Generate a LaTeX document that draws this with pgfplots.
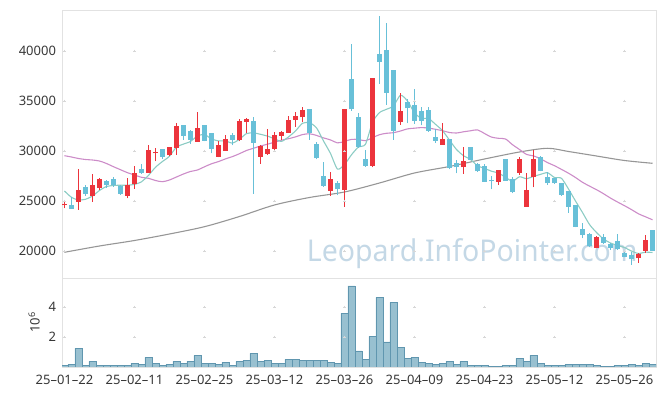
\documentclass[border=0pt]{standalone}
\usepackage{graphicx}
\usepackage{pgfplots}
\pgfplotsset{compat=1.18}
\usepackage{pgfplotstable}
\usepackage{fontspec}
\setmainfont{Noto Sans}
\definecolor{cup}{RGB}{236,52,60}
\definecolor{cdn}{RGB}{104,192,216}
\definecolor{mafive}{RGB}{140,204,196}
\definecolor{matwenty}{RGB}{204,140,200}
\definecolor{masixty}{RGB}{150,150,150}
\definecolor{volf}{RGB}{152,192,208}
\definecolor{vole}{RGB}{96,150,175}
\definecolor{framec}{RGB}{226,226,226}
\definecolor{gridc}{RGB}{215,215,215}
\definecolor{wm}{RGB}{196,216,230}
\definecolor{txt}{RGB}{55,55,55}

\pgfplotstableread{
i O H L C
0 24550 25100 24270 24650
2 24930 28170 24100 26000
4 25500 27670 24930 26500
5 26300 27300 26100 27170
9 25500 27330 25270 26530
10 26700 28500 26230 27700
12 27830 30570 27800 30000
13 29750 30270 28970 29800
15 29630 30370 29500 30300
16 30330 32800 29630 32400
19 30930 33930 30900 32200
22 29430 31000 29370 30500
23 30030 31630 30030 31100
25 31100 33170 30970 32900
26 32900 33330 31770 33100
28 29430 30600 28700 30430
29 29700 32230 29600 30170
30 30230 31900 30030 31570
31 31530 31970 31100 31800
32 31830 33530 31830 33070
33 33100 33930 32430 33400
34 33370 34430 32870 34030
38 26030 27930 25530 27170
40 26100 34100 24430 34100
44 28500 37200 28370 37200
48 32930 35770 32600 33930
54 30630 32770 30630 31100
57 28370 30430 27700 28930
62 26930 28000 26600 28000
65 27830 29370 27600 29170
66 24430 27830 24430 26000
67 27370 30100 26370 29170
76 20330 21500 20270 21330
82 19270 19830 18830 19630
83 20030 21600 19830 21000
}\up

\pgfplotstableread{
i O H L C
1 24530 25370 24230 24230
3 26370 26630 25500 25700
6 26900 27100 26300 26630
7 27100 27370 26430 26570
8 26400 26570 25600 25730
11 28100 28700 27700 27830
14 30170 30200 29230 29430
17 32500 32500 31100 31500
18 31930 32100 30700 31100
20 32500 32570 30970 31030
21 31700 31700 29770 30230
24 31570 31770 30570 31100
27 32900 33430 25700 30830
35 34100 34100 31100 31830
36 30600 30930 29170 29270
37 27430 28930 26430 26500
39 26700 26970 25570 26170
41 37100 40670 34030 34170
42 33370 33830 30300 30370
43 29170 30100 28430 28530
45 39670 43500 36700 38930
46 40030 42770 34600 35830
47 38030 38100 31100 32030
49 34830 35170 32770 34270
50 34500 36170 32700 33030
51 33930 34430 32570 33030
52 34000 34430 31900 32030
53 31370 32200 30830 31000
55 31100 31100 28170 28270
56 28730 29100 27770 28370
58 30300 30370 29100 29100
59 28670 28830 27900 27970
60 28430 28670 26900 26930
61 27030 27500 26170 26970
63 29170 29200 27030 27030
64 27100 27370 25770 25930
68 29370 29450 27970 28030
69 27370 27930 26630 26770
70 27200 27300 26700 26770
71 26700 26830 25500 25600
72 25900 25900 23830 24430
73 24500 24500 22370 22430
74 22100 22830 21270 21600
75 21600 21830 20370 20500
77 21370 21670 20700 20830
78 20600 20770 20100 20330
79 20900 21670 20100 20170
80 19770 20030 19370 19430
81 19500 19930 18600 19170
84 22000 22000 20000 20000
}\down

\pgfplotstableread{
i V
0 0.11
1 0.18
2 1.24
3 0.11
4 0.38
5 0.11
6 0.11
7 0.11
8 0.11
9 0.11
10 0.24
11 0.18
12 0.64
13 0.24
14 0.11
15 0.18
16 0.38
17 0.24
18 0.38
19 0.78
20 0.24
21 0.24
22 0.18
23 0.31
24 0.11
25 0.38
26 0.44
27 0.91
28 0.38
29 0.44
30 0.24
31 0.24
32 0.51
33 0.51
34 0.44
35 0.44
36 0.44
37 0.44
38 0.31
39 0.24
40 3.58
41 5.40
42 1.07
43 0.51
44 2.04
45 4.64
46 1.67
47 4.31
48 1.31
49 0.58
50 0.64
51 0.31
52 0.24
53 0.18
54 0.24
55 0.38
56 0.18
57 0.38
58 0.11
59 0.11
60 0.11
61 0.04
62 0.04
63 0.11
64 0.11
65 0.58
66 0.38
67 0.78
68 0.24
69 0.11
70 0.11
71 0.11
72 0.18
73 0.18
74 0.18
75 0.18
76 0.11
77 0.04
78 0.04
79 0.11
80 0.11
81 0.18
82 0.11
83 0.24
84 0.18
}\vol

\pgfplotstableread{
i M
0 26000
1 25370
2 25100
3 25170
4 25500
5 26050
6 26450
7 26550
8 26580
9 26580
10 26660
11 26920
12 27560
13 28370
14 28950
15 29470
16 30390
17 30690
18 30950
19 31500
20 31650
21 31210
22 31010
23 31010
24 30790
25 31170
26 31740
27 31810
28 31670
29 31490
30 31220
31 30960
32 31410
33 32000
34 32770
35 32830
36 32320
37 31010
38 29760
39 28190
40 28640
41 29620
42 30400
43 30670
44 32870
45 33840
46 34170
47 34500
48 35580
49 35000
50 33820
51 33260
52 33260
53 32670
54 32040
55 31090
56 30150
57 29530
58 29150
59 28530
60 28260
61 27980
62 27790
63 27380
64 26970
65 27420
66 27230
67 27460
68 27660
69 27830
70 27350
71 27270
72 26200
73 25000
74 23850
75 22650
76 21850
77 21200
78 20800
79 20550
80 20350
81 19990
82 19750
83 19880
84 19850
}\mafivet

\pgfplotstableread{
i M
0 29530
1 29400
2 29250
3 29150
4 29100
5 29000
6 28750
7 28430
8 28130
9 27830
10 27600
11 27370
12 27270
13 27050
14 26930
15 27100
16 27400
17 27700
18 27950
19 28100
20 28420
21 28720
22 28940
23 29210
24 29440
25 29730
26 30050
27 30270
28 30500
29 30680
30 30880
31 31080
32 31230
33 31410
34 31640
35 31720
36 31560
37 31310
38 31110
39 30810
40 30960
41 31160
42 31150
43 31030
44 31330
45 31630
46 31770
47 31830
48 32000
49 32210
50 32280
51 32340
52 32290
53 32170
54 32030
55 31850
56 31800
57 31920
58 32020
59 32110
60 31750
61 31390
62 31270
63 31200
64 30630
65 30150
66 29660
67 29510
68 29220
69 28840
70 28530
71 28160
72 27780
73 27350
74 26870
75 26490
76 26130
77 25730
78 25290
79 24900
80 24530
81 24140
82 23720
83 23420
84 23120
}\matwentyt

\pgfplotstableread{
i M
0 19870
5 20500
10 21050
15 21700
20 22430
25 23450
30 24600
35 25350
40 25900
45 26800
50 27800
55 28450
60 29200
65 29900
69 30270
72 29950
76 29500
80 29050
84 28770
}\masixtyt

\begin{document}
\begin{tikzpicture}[x=1pt,y=1pt]
\useasboundingbox (0,0) rectangle (665,396);
\pgfplotsset{
  every axis/.append style={
    scale only axis, width=594pt,
    xmin=-0.35, xmax=84.5,
    axis line style={framec},
    major tick length=0pt,
    xtick={0,10,...,80},
    tick label style={font=\fontsize{13}{15}\selectfont, text=txt},
    yticklabel style={xshift=-2.5pt},
    scaled y ticks=false,
    /pgf/number format/assume math mode=true,
    /pgf/number format/1000 sep={},
  },
  candle/.style={only marks, mark=*, mark size=0pt, mark options={draw=none, fill=none, opacity=0},
    error bars/.cd, y dir=plus, y explicit, error mark=none, error bar style={#1}},
}
% main price panel
\begin{axis}[at={(62pt,118pt)}, anchor=south west, height=268pt,
  ymin=17300, ymax=44100,
  ytick={20000,25000,30000,35000,40000},
  xticklabels={}]
\node[anchor=base west, font=\fontsize{30}{30}\selectfont, text=wm, inner sep=0pt] at (axis cs:34.6,18900) {\scalebox{0.95}[1]{Leopard.InfoPointer.com}};
\addplot[only marks, mark=+, mark size=1.4pt, gridc, forget plot] coordinates {
(0,20000)(10,20000)(20,20000)(30,20000)(40,20000)(50,20000)(60,20000)(70,20000)(80,20000)
(0,25000)(10,25000)(20,25000)(30,25000)(40,25000)(50,25000)(60,25000)(70,25000)(80,25000)
(0,30000)(10,30000)(20,30000)(30,30000)(40,30000)(50,30000)(60,30000)(70,30000)(80,30000)
(0,35000)(10,35000)(20,35000)(30,35000)(40,35000)(50,35000)(60,35000)(70,35000)(80,35000)
(0,40000)(10,40000)(20,40000)(30,40000)(40,40000)(50,40000)(60,40000)(70,40000)(80,40000)};
\addplot[masixty, line width=1.1pt, smooth] table[x=i, y=M] {\masixtyt};
\addplot[matwenty, line width=1.1pt, smooth] table[x=i, y=M] {\matwentyt};
\addplot[mafive, line width=1.1pt, smooth, tension=0.4] table[x=i, y=M] {\mafivet};
% wicks
\addplot[candle={line width=1pt, cup}] table[x=i, y=L, y error plus expr=\thisrow{H}-\thisrow{L}] {\up};
\addplot[candle={line width=1pt, cdn}] table[x=i, y=L, y error plus expr=\thisrow{H}-\thisrow{L}] {\down};
% bodies
\addplot[candle={line width=5pt, cup}] table[x=i, y=O, y error plus expr=\thisrow{C}-\thisrow{O}+60] {\up};
\addplot[candle={line width=5pt, cdn}] table[x=i, y=C, y error plus expr=\thisrow{O}-\thisrow{C}+60] {\down};
\end{axis}
% volume panel
\begin{axis}[at={(62pt,29pt)}, anchor=south west, height=89pt,
  ymin=0, ymax=5.93, ytick={2,4},
  xticklabels={25–01–22,25–02–11,25–02–25,25–03–12,25–03–26,25–04–09,25–04–23,25–05–12,25–05–26},
  xticklabel style={yshift=-5pt},
  ylabel={10\textsuperscript{6}}, ylabel style={font=\fontsize{13}{15}\selectfont, text=txt}, ylabel shift=2pt]
\addplot[only marks, mark=+, mark size=1.4pt, gridc, forget plot] coordinates {
(0,2)(10,2)(20,2)(30,2)(40,2)(50,2)(60,2)(70,2)(80,2)
(0,4)(10,4)(20,4)(30,4)(40,4)(50,4)(60,4)(70,4)(80,4)};
\addplot[ybar, bar width=7pt, fill=volf, draw=vole, line width=0.6pt] table[x=i, y=V] {\vol};
\end{axis}
\end{tikzpicture}
\end{document}
